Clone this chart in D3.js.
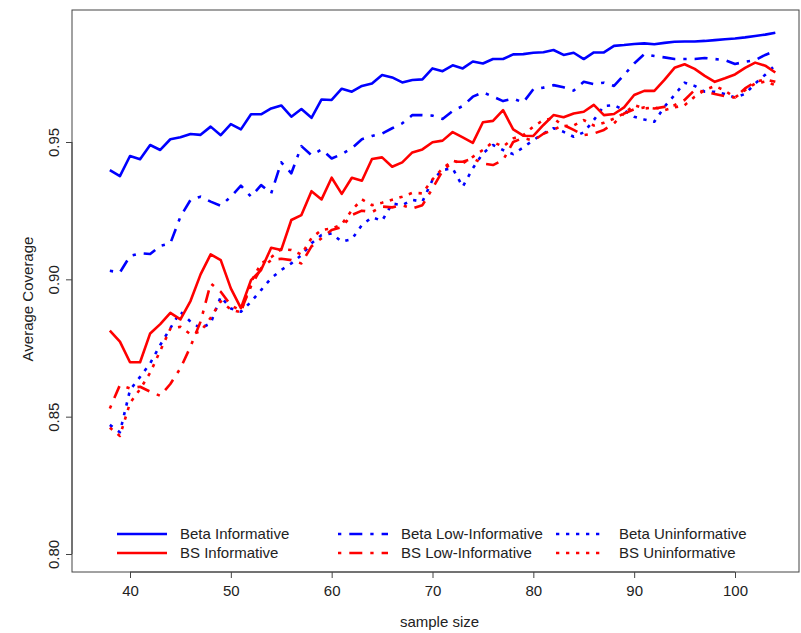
<!DOCTYPE html>
<html>
<head>
<meta charset="utf-8">
<script src="https://cdn.jsdelivr.net/npm/d3@7"></script>
<style>
  html, body { margin: 0; padding: 0; background: #fff; }
  svg { display: block; font-family: "Liberation Sans", Arial, sans-serif; }
</style>
</head>
<body>
<svg id="chart" width="801" height="633"></svg>
<script>
// Sample sizes 38..104
const sampleSizes = d3.range(38, 105);

const betaInformative = [
  0.9398, 0.9376, 0.9449, 0.9437, 0.9489, 0.9471, 0.9510, 0.9517, 0.9529, 0.9526,
  0.9556, 0.9525, 0.9565, 0.9546, 0.9601, 0.9601, 0.9622, 0.9633, 0.9592, 0.9620,
  0.9588, 0.9655, 0.9653, 0.9694, 0.9683, 0.9704, 0.9713, 0.9744, 0.9735, 0.9717,
  0.9726, 0.9728, 0.9768, 0.9758, 0.9779, 0.9768, 0.9793, 0.9786, 0.9802, 0.9802,
  0.9819, 0.9820, 0.9825, 0.9827, 0.9835, 0.9817, 0.9825, 0.9802, 0.9826, 0.9826,
  0.9850, 0.9853, 0.9857, 0.9859, 0.9856, 0.9861, 0.9865, 0.9866, 0.9866, 0.9868,
  0.9871, 0.9874, 0.9877, 0.9881, 0.9886, 0.9891, 0.9898
];

const betaLowInformative = [
  0.9031, 0.9025, 0.9085, 0.9095, 0.9092, 0.9122, 0.9131, 0.9228, 0.9289, 0.9301,
  0.9283, 0.9268, 0.9301, 0.9341, 0.9301, 0.9343, 0.9313, 0.9426, 0.9386, 0.9485,
  0.9452, 0.9473, 0.9440, 0.9456, 0.9477, 0.9510, 0.9522, 0.9531, 0.9550, 0.9568,
  0.9598, 0.9598, 0.9596, 0.9584, 0.9613, 0.9631, 0.9665, 0.9681, 0.9665, 0.9649,
  0.9658, 0.9644, 0.9692, 0.9698, 0.9707, 0.9699, 0.9687, 0.9719, 0.9711, 0.9716,
  0.9704, 0.9744, 0.9786, 0.9820, 0.9813, 0.9808, 0.9802, 0.9802, 0.9802, 0.9806,
  0.9802, 0.9798, 0.9784, 0.9792, 0.9798, 0.9817, 0.9832
];

const betaUninformative = [
  0.8470, 0.8443, 0.8597, 0.8645, 0.8694, 0.8761, 0.8822, 0.8882, 0.8846, 0.8822,
  0.8840, 0.8937, 0.8894, 0.8882, 0.8918, 0.8961, 0.9004, 0.9034, 0.9058, 0.9088,
  0.9131, 0.9161, 0.9167, 0.9137, 0.9146, 0.9198, 0.9226, 0.9213, 0.9276, 0.9270,
  0.9289, 0.9283, 0.9362, 0.9398, 0.9404, 0.9337, 0.9404, 0.9459, 0.9489, 0.9471,
  0.9456, 0.9480, 0.9507, 0.9531, 0.9550, 0.9537, 0.9519, 0.9535, 0.9580, 0.9631,
  0.9634, 0.9616, 0.9592, 0.9582, 0.9574, 0.9628, 0.9671, 0.9716, 0.9704, 0.9683,
  0.9683, 0.9675, 0.9662, 0.9675, 0.9713, 0.9745, 0.9780
];

const bsInformative = [
  0.8813, 0.8773, 0.8698, 0.8698, 0.8803, 0.8837, 0.8878, 0.8854, 0.8921, 0.9018,
  0.9091, 0.9070, 0.8967, 0.8895, 0.8997, 0.9034, 0.9115, 0.9107, 0.9216, 0.9234,
  0.9321, 0.9291, 0.9370, 0.9311, 0.9370, 0.9359, 0.9438, 0.9444, 0.9410, 0.9426,
  0.9462, 0.9473, 0.9499, 0.9505, 0.9536, 0.9517, 0.9497, 0.9572, 0.9577, 0.9616,
  0.9546, 0.9523, 0.9522, 0.9562, 0.9598, 0.9590, 0.9604, 0.9610, 0.9635, 0.9598,
  0.9602, 0.9626, 0.9671, 0.9686, 0.9686, 0.9726, 0.9770, 0.9783, 0.9766, 0.9741,
  0.9719, 0.9732, 0.9746, 0.9770, 0.9789, 0.9778, 0.9753
];

const bsLowInformative = [
  0.8530, 0.8615, 0.8603, 0.8609, 0.8591, 0.8576, 0.8619, 0.8676, 0.8755, 0.8846,
  0.8985, 0.8955, 0.8906, 0.8885, 0.8975, 0.9040, 0.9070, 0.9075, 0.9070, 0.9058,
  0.9120, 0.9150, 0.9180, 0.9190, 0.9234, 0.9250, 0.9245, 0.9265, 0.9262, 0.9270,
  0.9258, 0.9270, 0.9331, 0.9395, 0.9428, 0.9428, 0.9440, 0.9422, 0.9416, 0.9434,
  0.9500, 0.9515, 0.9505, 0.9530, 0.9545, 0.9562, 0.9544, 0.9525, 0.9531, 0.9544,
  0.9568, 0.9604, 0.9619, 0.9626, 0.9622, 0.9628, 0.9634, 0.9653, 0.9689, 0.9683,
  0.9675, 0.9667, 0.9662, 0.9695, 0.9719, 0.9728, 0.9719
];

const bsUninformative = [
  0.8460, 0.8430, 0.8550, 0.8600, 0.8660, 0.8740, 0.8820, 0.8827, 0.8800, 0.8810,
  0.8860, 0.8920, 0.8890, 0.8880, 0.8990, 0.9058, 0.9080, 0.9110, 0.9107, 0.9090,
  0.9150, 0.9180, 0.9185, 0.9200, 0.9252, 0.9291, 0.9270, 0.9279, 0.9290, 0.9301,
  0.9315, 0.9313, 0.9364, 0.9404, 0.9432, 0.9422, 0.9446, 0.9471, 0.9500, 0.9483,
  0.9513, 0.9525, 0.9556, 0.9580, 0.9586, 0.9558, 0.9560, 0.9580, 0.9560, 0.9570,
  0.9585, 0.9604, 0.9634, 0.9622, 0.9626, 0.9616, 0.9626, 0.9634, 0.9665, 0.9689,
  0.9704, 0.9687, 0.9662, 0.9689, 0.9713, 0.9720, 0.9707
];

const xTicks = [40, 50, 60, 70, 80, 90, 100];
const yTicks = [0.80, 0.85, 0.90, 0.95];
const yTickLabels = ["0.80", "0.85", "0.90", "0.95"];

const seriesNames = ["Beta Informative", "BS Informative", "Beta Low-Informative",
                     "BS Low-Informative", "Beta Uninformative", "BS Uninformative"];
const seriesValues = [betaInformative, bsInformative, betaLowInformative,
                      bsLowInformative, betaUninformative, bsUninformative];
const seriesColors = ["#0000ff", "#ff0000", "#0000ff", "#ff0000", "#0000ff", "#ff0000"];
const dashSolid = null, dashDotDash = "3.3,8,13,8", dashDotted = "3.3,6.7";
const seriesDash = [dashSolid, dashSolid, dashDotDash, dashDotDash, dashDotted, dashDotted];

const svg = d3.select("#chart");
const box = { left: 72, top: 10, right: 799, bottom: 572 };

const x = d3.scaleLinear().domain([40, 100]).range([130, 735]);
const y = d3.scaleLinear().domain([0.80, 0.95]).range([554, 142]);

const axisColor = "#444";
const textColor = "#222";

// plot frame
svg.append("rect")
  .attr("x", box.left).attr("y", box.top)
  .attr("width", box.right - box.left).attr("height", box.bottom - box.top)
  .attr("fill", "none").attr("stroke", axisColor).attr("stroke-width", 1);

// x axis
const xAxis = d3.axisBottom(x).tickValues(xTicks).tickSize(6).tickPadding(7)
  .tickFormat(d3.format("d"));
const gx = svg.append("g").attr("transform", `translate(0,${box.bottom})`).call(xAxis);
gx.select(".domain").attr("d", `M${x(40)},0H${x(100)}`).attr("stroke", axisColor);
gx.selectAll(".tick line").attr("stroke", axisColor);
gx.selectAll(".tick text").attr("fill", textColor).attr("font-size", 15)
  .attr("font-family", "Liberation Sans, Arial, sans-serif");

// y axis with vertical tick labels
const yAxis = d3.axisLeft(y).tickValues(yTicks).tickSize(6)
  .tickFormat((d, i) => yTickLabels[i]);
const gy = svg.append("g").attr("transform", `translate(${box.left},0)`).call(yAxis);
gy.select(".domain").attr("d", `M0,${y(0.80)}V${y(0.95)}`).attr("stroke", axisColor);
gy.selectAll(".tick line").attr("stroke", axisColor);
gy.selectAll(".tick text")
  .attr("fill", textColor).attr("font-size", 15)
  .attr("font-family", "Liberation Sans, Arial, sans-serif")
  .attr("x", null).attr("dy", null)
  .attr("text-anchor", "middle")
  .attr("transform", "translate(-13,0) rotate(-90)");

// axis titles
svg.append("text")
  .attr("x", (box.left + box.right) / 2 + 4).attr("y", 627)
  .attr("text-anchor", "middle").attr("font-size", 15).attr("fill", textColor)
  .text("sample size");
svg.append("text")
  .attr("transform", `translate(33,${(box.top + box.bottom) / 2 + 8}) rotate(-90)`)
  .attr("text-anchor", "middle").attr("font-size", 15).attr("fill", textColor)
  .text("Average Coverage");

// series lines
const line = d3.line()
  .x((d, i) => x(sampleSizes[i]))
  .y(d => y(d));

const plot = svg.append("g");
[4, 5, 2, 3, 1, 0].forEach(k => {
  plot.append("path")
    .datum(seriesValues[k])
    .attr("d", line)
    .attr("fill", "none")
    .attr("stroke", seriesColors[k])
    .attr("stroke-width", 2.6)
    .attr("stroke-linejoin", "round")
    .attr("stroke-dasharray", seriesDash[k]);
});

// legend: three columns, two rows
const legendCols = [117, 338, 556];
const legendRows = [534, 553];
const legend = svg.append("g");
seriesNames.forEach((name, k) => {
  const cx = legendCols[Math.floor(k / 2)];
  const cy = legendRows[k % 2];
  legend.append("line")
    .attr("x1", cx).attr("x2", cx + 50).attr("y1", cy).attr("y2", cy)
    .attr("stroke", seriesColors[k]).attr("stroke-width", 2.6)
    .attr("stroke-dasharray", seriesDash[k]);
  legend.append("text")
    .attr("x", cx + 63).attr("y", cy + 5)
    .attr("font-size", 15).attr("fill", textColor)
    .text(name);
});
</script>
</body>
</html>
